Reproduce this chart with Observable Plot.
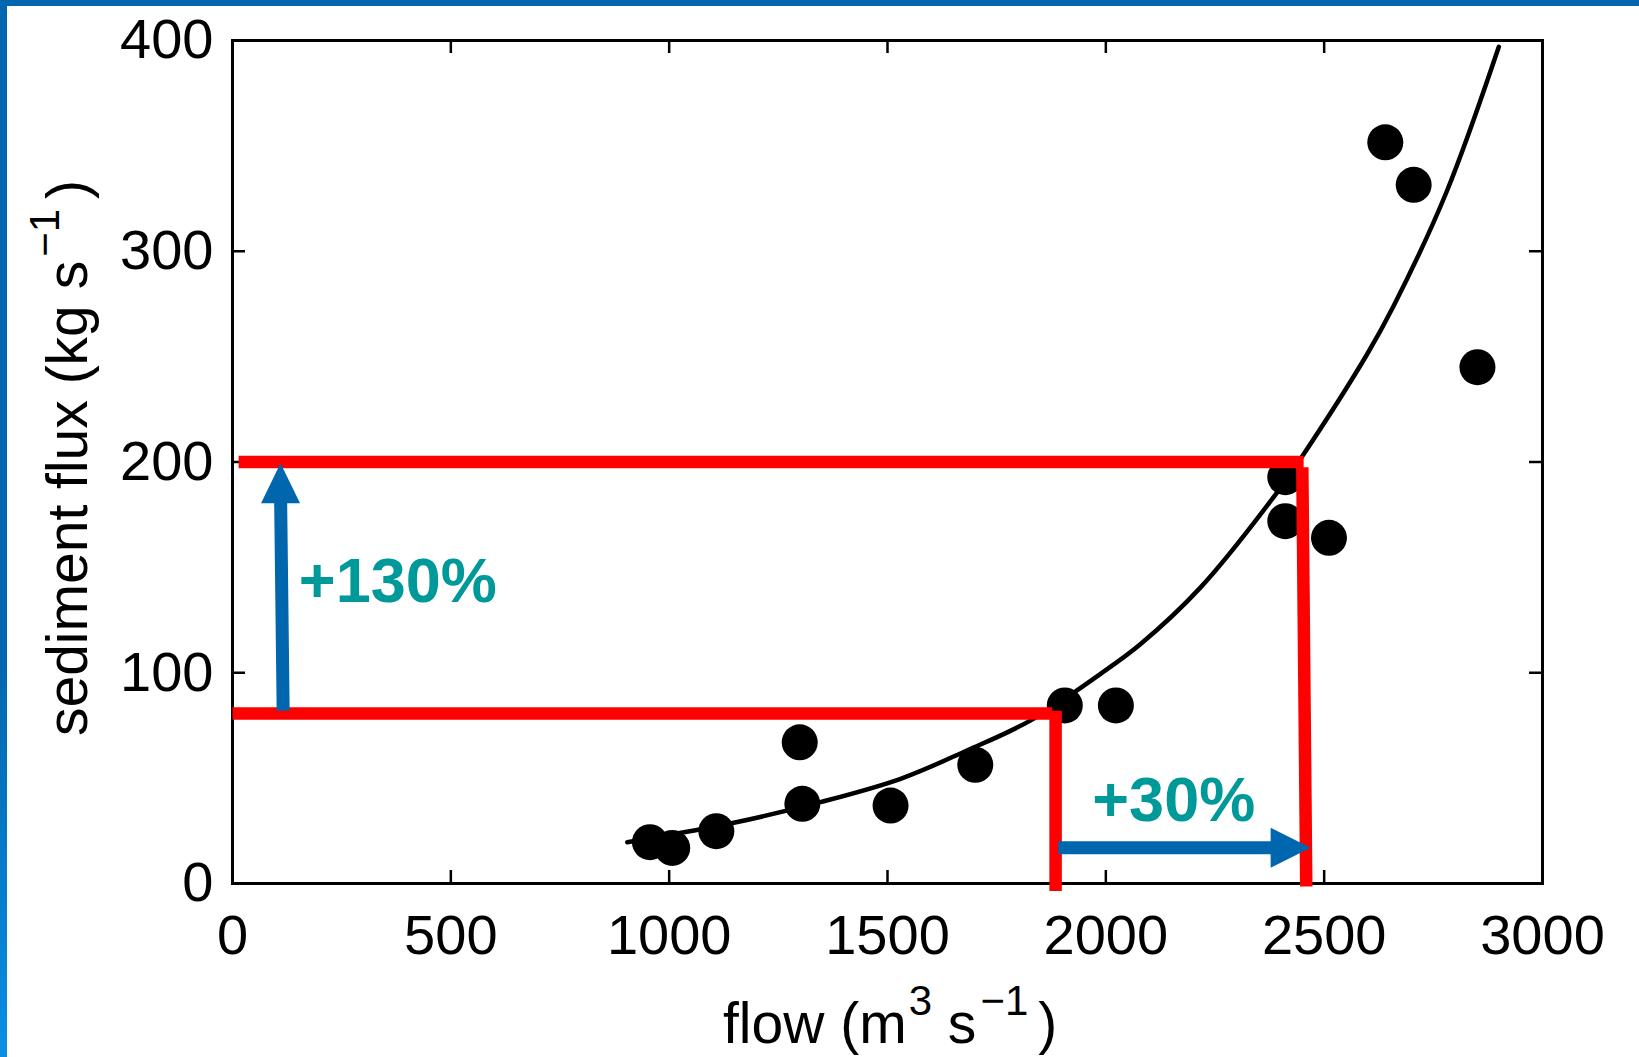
<!DOCTYPE html>
<html>
<head>
<meta charset="utf-8">
<script src="https://cdn.jsdelivr.net/npm/d3@7"></script>
<script src="https://cdn.jsdelivr.net/npm/@observablehq/plot@0.6"></script>
<style>
  html, body { margin: 0; padding: 0; background: #fff; overflow: hidden; }
  #wrap { position: relative; width: 1639px; height: 1057px; }
  #topbar { position: absolute; left: 0; top: 0; width: 1639px; height: 6px; background: #0066ad; }
  #leftbar { position: absolute; left: 0; top: 0; width: 7px; height: 1057px;
             background: linear-gradient(to bottom, #0066ad 0%, #0066ad 62%, #0a8ee4 100%); }
  #chart svg { display: block; }
</style>
</head>
<body>
<div id="wrap">
  <div id="chart"></div>
  <div id="topbar"></div>
  <div id="leftbar"></div>
</div>
<script>
// ---- data ----
const xTicks = [0, 500, 1000, 1500, 2000, 2500, 3000];
const yTicks = [0, 100, 200, 300, 400];

// observed flow (m3/s) vs sediment flux (kg/s)
const obsFlow = [956, 1007, 1108, 1299, 1305, 1507, 1701, 1906, 2023, 2411, 2411, 2511, 2640, 2705, 2851];
const obsFlux = [19.6, 16.9, 24.8, 67, 37.8, 37, 56.3, 84.5, 84.5, 192.8, 171.9, 164, 351.7, 331.5, 245];

// fitted rating curve
const fitFlow = [904, 1034, 1148, 1346, 1530, 1682, 1827, 1988, 2079, 2217, 2392, 2446, 2598, 2659, 2780, 2900];
const fitFlux = [19.6, 24.3, 28.8, 38.6, 49.7, 63.1, 77.3, 99.5, 113.5, 140.5, 185.5, 201.5, 251, 274, 328, 397];

// red guide lines (start/end in data units)
const guideX1 = [14, 0, 1885, 2450];
const guideY1 = [200, 80.7, 82, 197.5];
const guideX2 = [2453, 1877, 1885, 2459];
const guideY2 = [200, 80.7, -3.6, -1.4];

// blue arrows: shaft start, shaft end, tip
const arrowX1 = [116, 1891];
const arrowY1 = [82, 17];
const arrowX2 = [110, 2385];
const arrowY2 = [186, 17];
const arrowTipX = [110, 2469];
const arrowTipY = [199.4, 17];

// percentage annotations
const pctText = ["+130%", "+30%"];
const pctX = [152, 1969];
const pctY = [143, 39];

// ---- build tables ----
const points = obsFlow.map((x, i) => ({x, y: obsFlux[i]}));
const fit = fitFlow.map((x, i) => ({x, y: fitFlux[i]}));
const guides = guideX1.map((x1, i) => ({x1, y1: guideY1[i], x2: guideX2[i], y2: guideY2[i]}));
const shafts = arrowX1.map((x1, i) => ({x1, y1: arrowY1[i], x2: arrowX2[i], y2: arrowY2[i]}));
const pcts = pctText.map((t, i) => ({t, x: pctX[i], y: pctY[i]}));

const upHead = {draw(ctx) { ctx.moveTo(0, 0); ctx.lineTo(-19.5, 40); ctx.lineTo(19.5, 40); ctx.closePath(); }};
const rightHead = {draw(ctx) { ctx.moveTo(0, 0); ctx.lineTo(-40, -20); ctx.lineTo(-40, 20); ctx.closePath(); }};

const FONT = "'Liberation Sans', Arial, Helvetica, sans-serif";
const W = 1639, H = 1057, ML = 232, MR = 97, MT = 40, MB = 174;
const fw = W - ML - MR, fh = H - MT - MB, tl = 13;

const chart = Plot.plot({
  width: W, height: H,
  marginLeft: ML, marginRight: MR, marginTop: MT, marginBottom: MB,
  style: {fontFamily: FONT, fontSize: "56px", color: "black", background: "transparent", overflow: "visible"},
  x: {domain: [0, 3000], ticks: xTicks, tickFormat: d3.format("d"), tickSize: 0, tickPadding: 31, label: null},
  y: {domain: [0, 400], ticks: yTicks, tickFormat: d3.format("d"), tickSize: 0, tickPadding: 19, label: null},
  marks: [
    Plot.tickX(xTicks, {x: d => d, insetTop: fh - tl, stroke: "black", strokeWidth: 2.5}),
    Plot.tickX(xTicks, {x: d => d, insetBottom: fh - tl, stroke: "black", strokeWidth: 2.5}),
    Plot.tickY(yTicks, {y: d => d, insetRight: fw - tl, stroke: "black", strokeWidth: 2.5}),
    Plot.tickY(yTicks, {y: d => d, insetLeft: fw - tl, stroke: "black", strokeWidth: 2.5}),
    Plot.frame({stroke: "black", strokeWidth: 3}),
    Plot.line(fit, {x: "x", y: "y", curve: "catmull-rom", stroke: "black", strokeWidth: 4.5}),
    Plot.dot(points, {x: "x", y: "y", r: 18, fill: "black", stroke: "none"}),
    Plot.link(guides, {x1: "x1", y1: "y1", x2: "x2", y2: "y2", stroke: "#ff0000", strokeWidth: 12.5}),
    Plot.link(shafts, {x1: "x1", y1: "y1", x2: "x2", y2: "y2", stroke: "#0066ad", strokeWidth: 13}),
    Plot.dot([0], {x: () => arrowTipX[0], y: () => arrowTipY[0], symbol: upHead, fill: "#0066ad", stroke: "none"}),
    Plot.dot([1], {x: () => arrowTipX[1], y: () => arrowTipY[1], symbol: rightHead, fill: "#0066ad", stroke: "none"}),
    Plot.text(pcts, {x: "x", y: "y", text: "t", textAnchor: "start", fill: "#009999",
                     fontWeight: "bold", fontSize: 63, fontFamily: FONT})
  ]
});

document.getElementById("chart").appendChild(chart);

// axis titles with superscripts
const svg = d3.select(chart);
const xl = svg.append("text")
  .attr("x", 723).attr("y", 1043)
  .attr("text-anchor", "start")
  .attr("font-family", FONT).attr("font-size", 57).attr("fill", "black");
xl.append("tspan").text("flow (m");
xl.append("tspan").attr("font-size", 42).attr("dy", -28).attr("dx", 2).text("3");
xl.append("tspan").attr("dy", 28).text(" s");
xl.append("tspan").attr("font-size", 42).attr("dy", -28).attr("dx", 4).text("\u22121");
xl.append("tspan").attr("dy", 28).attr("dx", 10).text(")");

const yl = svg.append("text")
  .attr("transform", "translate(87,458) rotate(-90)")
  .attr("text-anchor", "middle")
  .attr("font-family", FONT).attr("font-size", 57).attr("fill", "black");
yl.append("tspan").text("sediment flux (kg s");
yl.append("tspan").attr("font-size", 42).attr("dy", -28).attr("dx", 4).text("\u22121");
yl.append("tspan").attr("dy", 28).attr("dx", 10).text(")");
</script>
</body>
</html>
